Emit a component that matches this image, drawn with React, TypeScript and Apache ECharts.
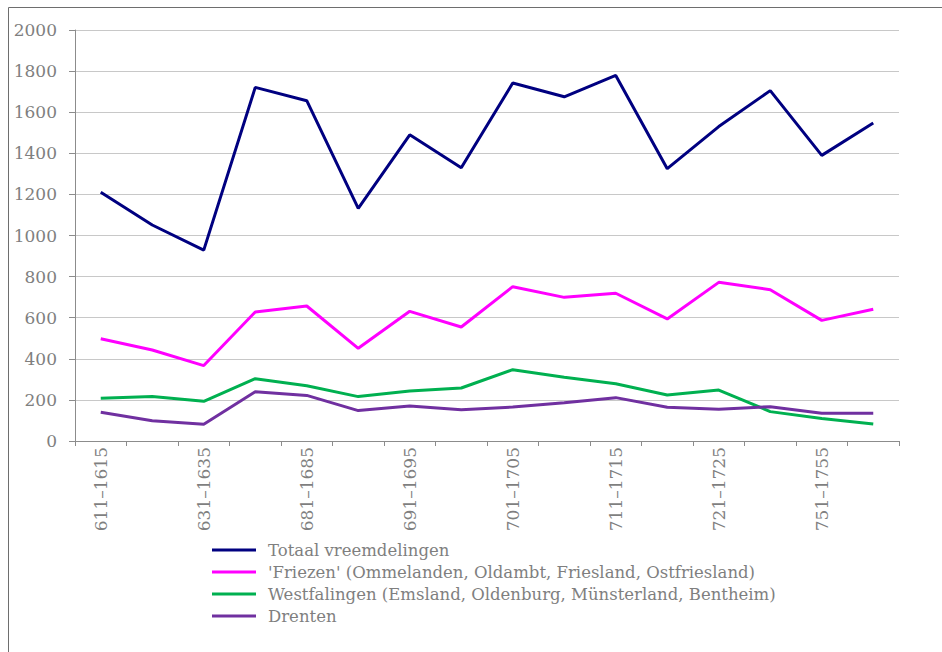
import React, { useEffect, useRef } from "react";
import * as echarts from "echarts";

const categories = [
  "1611–1615", "1621–1625", "1631–1635", "1671–1675", "1681–1685", "1686–1690",
  "1691–1695", "1696–1700", "1701–1705", "1706–1710", "1711–1715", "1716–1720",
  "1721–1725", "1741–1745", "1751–1755", "1761–1765",
];

const totaal = [1210, 1051, 929, 1721, 1656, 1132, 1490, 1330, 1742, 1675, 1779, 1325, 1530, 1705, 1390, 1547];
const friezen = [498, 443, 367, 628, 657, 451, 631, 555, 751, 699, 719, 594, 772, 736, 587, 641];
const westfalingen = [208, 217, 193, 303, 269, 216, 243, 258, 347, 310, 279, 224, 248, 143, 110, 83];
const drenten = [140, 99, 81, 240, 222, 148, 170, 152, 165, 186, 211, 164, 154, 167, 135, 135];

const seriesNames = [
  "Totaal vreemdelingen",
  "'Friezen' (Ommelanden, Oldambt, Friesland, Ostfriesland)",
  "Westfalingen (Emsland, Oldenburg, Münsterland, Bentheim)",
  "Drenten",
];
const seriesColors = ["#000080", "#ff00ff", "#00b050", "#7030a0"];
const seriesData = [totaal, friezen, westfalingen, drenten];

const FONT = "DejaVu Serif";
const TEXT_COLOR = "#7f7f7f";

export default function App() {
  const ref = useRef<HTMLDivElement>(null);
  useEffect(() => {
    if (!ref.current) return;
    const chart = echarts.init(ref.current, null, { renderer: "svg" });
    chart.setOption({
      animation: false,
      backgroundColor: "#ffffff",
      textStyle: { fontFamily: FONT },
      grid: { left: 75, right: 43, top: 30, bottom: 211, containLabel: false },
      legend: {
        orient: "vertical",
        left: 207,
        top: 534,
        itemWidth: 44,
        itemHeight: 3,
        itemGap: 0,
        icon: "rect",
        textStyle: {
          fontFamily: FONT,
          fontSize: 16.5,
          color: TEXT_COLOR,
          lineHeight: 22,
          padding: [0, 0, 0, 7],
        },
        data: seriesNames,
      },
      xAxis: {
        type: "category",
        data: categories,
        boundaryGap: true,
        axisLine: { show: true, lineStyle: { color: "#8c8c8c", width: 1 } },
        axisTick: { show: true, interval: 0, length: 5, alignWithLabel: false, lineStyle: { color: "#8c8c8c" } },
        axisLabel: {
          interval: 1,
          rotate: 90,
          margin: 6,
          fontFamily: FONT,
          fontSize: 17,
          color: TEXT_COLOR,
        },
        splitLine: { show: false },
      },
      yAxis: {
        type: "value",
        min: 0,
        max: 2000,
        interval: 200,
        axisLine: { show: true, lineStyle: { color: "#8c8c8c", width: 1 } },
        axisTick: { show: true, length: 6, lineStyle: { color: "#8c8c8c" } },
        axisLabel: {
          margin: 18,
          fontFamily: FONT,
          fontSize: 17,
          color: TEXT_COLOR,
          formatter: (v: number) => String(v),
        },
        splitLine: { show: true, lineStyle: { color: "#c8c8c8", width: 1 } },
      },
      series: seriesData.map((d, i) => ({
        name: seriesNames[i],
        type: "line",
        data: d,
        showSymbol: false,
        symbol: "none",
        color: seriesColors[i],
        lineStyle: { color: seriesColors[i], width: 3 },
      })),
      graphic: [
        {
          type: "rect",
          z: 100,
          shape: { x: 60, y: 531, width: 850, height: 10 },
          style: { fill: "#ffffff" },
        },
        {
          type: "rect",
          z: 100,
          shape: { x: 8.5, y: 7.5, width: 1000, height: 1000 },
          style: { fill: "none", stroke: "#6e6e6e", lineWidth: 1 },
        },
      ],
    });
    return () => chart.dispose();
  }, []);
  return (
    <div
      ref={ref}
      style={{ position: "fixed", left: 0, top: 0, width: 942, height: 652 }}
    />
  );
}
